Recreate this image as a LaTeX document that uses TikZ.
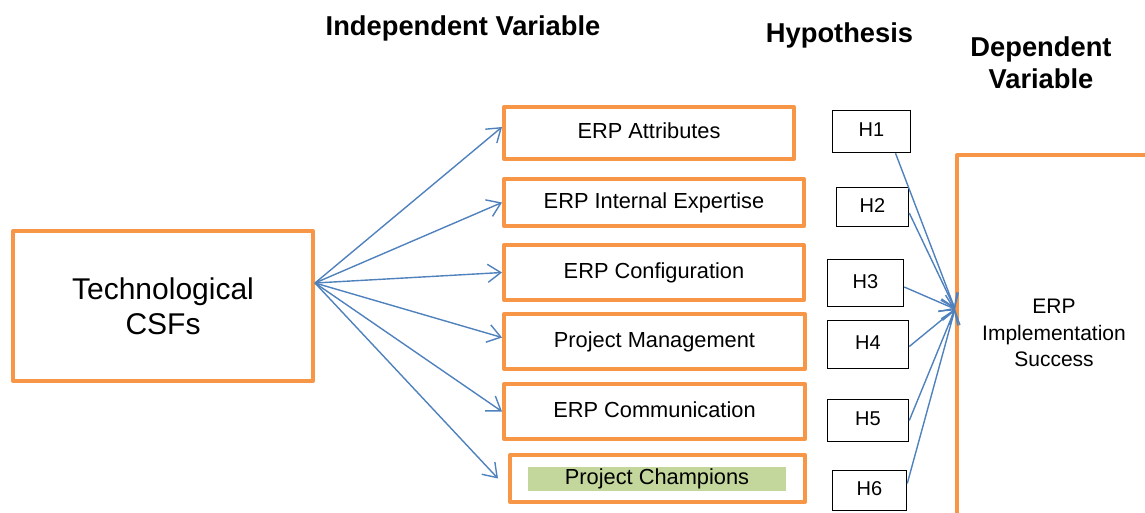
\documentclass[tikz,border=0pt]{standalone}
\usepackage{fontspec}
\setmainfont{Liberation Sans}
\usetikzlibrary{arrows.meta,calc}
\definecolor{orng}{HTML}{F79646}
\definecolor{blu}{HTML}{4F81BD}
\definecolor{grn}{HTML}{C3D69B}
\begin{document}
\begin{tikzpicture}[x=1pt,y=-1pt,
  obox/.style={draw=orng,line width=4pt,line join=round,rectangle,inner sep=0pt,
    text height=15.5pt,text depth=4pt,font=\fontsize{21.8}{26}\selectfont},
  hbox/.style={draw=black,line width=1.5pt,rectangle,inner sep=0pt,
    text height=14pt,text depth=4pt,font=\fontsize{20}{24}\selectfont},
  conn/.style={draw=blu,line width=1.4pt,-{Straight Barb[length=13pt,width=18pt]}},
  title/.style={font=\fontsize{27.3}{32}\selectfont\bfseries,anchor=base},
]
\useasboundingbox (0,0) rectangle (1145,512);
\clip (0,0) rectangle (1145,512);

% titles
\node[title] (tiv) at (463,35) {Independent Variable};
\node[title] (thyp) at (839.5,42) {Hypothesis};
\node[title,align=center] (tdv) at (1041,88) {Dependent\\Variable};

% left box
\node[obox,minimum width=300pt,minimum height=150pt,align=center,
  text height=,text depth=,font=\fontsize{30}{35}\selectfont] (tech) at (163,306) {Technological\\CSFs};

% independent variable boxes
\node[obox,minimum width=290pt,minimum height=52pt] (b1) at (649,133) {ERP Attributes};
\node[obox,minimum width=300pt,minimum height=47pt] (b2) at (654,202.5) {ERP Internal Expertise};
\node[obox,minimum width=300pt,minimum height=55pt] (b3) at (654,272.5) {ERP Configuration};
\node[obox,minimum width=301pt,minimum height=55pt] (b4) at (654.5,341.5) {Project Management};
\node[obox,minimum width=301pt,minimum height=55pt] (b5) at (654.5,411.5) {ERP Communication};
\node[obox,minimum width=295pt,minimum height=47pt] (b6) at (657.5,478.5) {};
\node[fill=grn,minimum width=258pt,minimum height=24pt,inner sep=0pt,
  text height=15.5pt,text depth=4pt,font=\fontsize{21.8}{26}\selectfont] (champ) at (657,479) {Project Champions};

% hypothesis boxes
\node[hbox,minimum width=78pt,minimum height=42pt] (H1) at (871.5,131.5) {H1};
\node[hbox,minimum width=72pt,minimum height=39pt] (H2) at (872.5,207) {H2};
\node[hbox,minimum width=76pt,minimum height=47pt] (H3) at (865.5,283) {H3};
\node[hbox,minimum width=81pt,minimum height=48pt] (H4) at (868,344.5) {H4};
\node[hbox,minimum width=81pt,minimum height=42pt] (H5) at (868,420.5) {H5};
\node[hbox,minimum width=74pt,minimum height=40pt] (H6) at (869.5,490.5) {H6};

% dependent variable box
\node[draw=orng,line width=4pt,line join=round,rectangle,inner sep=0pt,
  minimum width=260pt,minimum height=420pt,anchor=north west] (dep) at (955,153) {};
\node[font=\fontsize{21}{26.5}\selectfont,align=center] (deptxt) at (1054,333)
  {ERP\\Implementation\\Success};

% connectors
\coordinate (src) at ([yshift=23pt]tech.east);
\draw[conn] (src) -- ([yshift=6pt]b1.west);
\draw[conn] (src) -- (b2.west);
\draw[conn] (src) -- (b3.west);
\draw[conn] (src) -- ([yshift=4pt]b4.west);
\draw[conn] (src) -- (b5.west);
\draw[conn] (src) -- ([xshift=-10pt]b6.west);

\coordinate (conv) at ([yshift=56pt]dep.west);
\draw[conn] ([xshift=24pt]H1.south) -- (conv);
\draw[conn] ([yshift=-6pt]H2.east) -- (conv);
\draw[conn] ([yshift=-4pt]H3.east) -- (conv);
\draw[conn] ([yshift=-2pt]H4.east) -- (conv);
\draw[conn] (H5.east) -- (conv);
\draw[conn] ([yshift=7pt]H6.east) -- (conv);
\end{tikzpicture}
\end{document}
